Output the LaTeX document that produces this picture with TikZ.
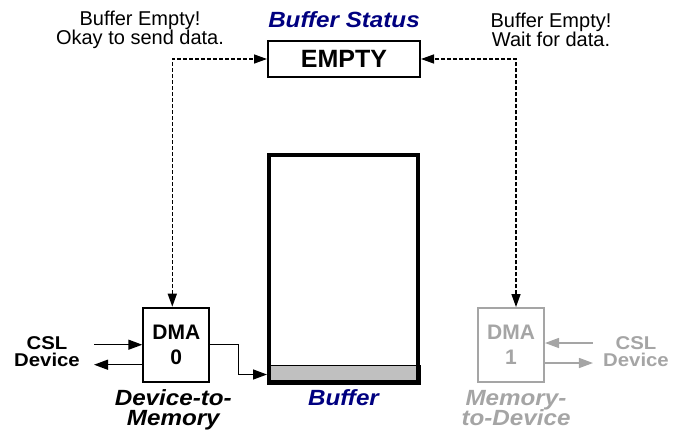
\documentclass[tikz,border=0pt]{standalone}
\usepackage{fontspec}
\setmainfont{Liberation Sans}
\newfontfamily\widesans{Liberation Sans}[FakeStretch=1.1]
\usepackage{tikz}
\usetikzlibrary{positioning, arrows.meta, calc, backgrounds}
\definecolor{navy}{RGB}{0,0,128}
\definecolor{dimgray}{RGB}{165,165,165}
\definecolor{bandgray}{RGB}{192,192,192}
\newcommand{\tightlines}{\lineskiplimit=-\maxdimen}

\begin{document}
\begin{tikzpicture}[x=1pt, y=-1pt, >={Triangle[length=14pt, width=10pt]},
  dmabox/.style={draw, line width=2pt, minimum width=66pt, minimum height=74pt, inner sep=0pt, align=center, font=\fontsize{21}{25}\selectfont\bfseries\tightlines},
  note/.style={align=center, inner sep=0pt, font=\fontsize{20}{19}\selectfont\tightlines},
  lbl/.style={align=center, inner sep=0pt, font=\widesans\fontsize{22}{20}\selectfont\bfseries\itshape\tightlines},
  dev/.style={align=center, inner sep=0pt, font=\widesans\fontsize{18.5}{17}\selectfont\bfseries\tightlines},
  sig/.style={line width=1.4pt, ->},
  link/.style={line width=1.4pt, dash pattern=on 4pt off 2pt, {Triangle[length=13pt, width=9pt]}-{Triangle[length=13pt, width=9pt]}}]
  \useasboundingbox (0,0) rectangle (674,432);
  % status flag
  \node[draw, line width=2pt, minimum width=152pt, minimum height=36pt, inner sep=0pt, font=\fontsize{25}{25}\selectfont\bfseries] (empty) at (344,59) {EMPTY};
  \node[lbl, navy, above=12pt of empty] (status) {Buffer Status};
  \node[note] (note0) at (140,29.7) {Buffer Empty!\\Okay to send data.};
  \node[note] (note1) at (551,29.7) {Buffer Empty!\\Wait for data.};
  % buffer with filled band at the bottom
  \node[draw, line width=4pt, minimum width=149pt, minimum height=227pt] (buffer) at (343.5,268.5) {};
  \begin{scope}[on background layer]
    \draw[line width=1pt, fill=bandgray] (buffer.south west) rectangle ([yshift=19pt]buffer.south east);
  \end{scope}
  \coordinate (bandmid) at ([yshift=9.5pt]buffer.south west);
  \node[lbl, navy, below=5pt of buffer] (buflbl) {Buffer};
  % DMA 0 (active)
  \node[dmabox] (dma0) at (176.3,344.7) {DMA\\0};
  \node[lbl, below=7pt of dma0, xshift=-3pt] (d2m) {Device-to-\\Memory};
  \node[dev] (csl0) at (47,352) {CSL\\Device};
  \coordinate (end0) at ([xshift=14pt]csl0.east);
  \coordinate (out0) at ([yshift=-20pt]dma0.west);
  \draw[sig] (end0 |- dma0.west) -- (dma0.west);
  \draw[sig] (out0) -- (out0 -| end0);
  \draw[sig] (dma0.east) -- ++(28,0) |- (bandmid);
  % DMA 1 (idle, greyed out)
  \node[dmabox, draw=dimgray, text=dimgray] (dma1) at (511,345) {DMA\\1};
  \node[lbl, dimgray, below=7pt of dma1, xshift=5pt] (m2d) {Memory-\\to-Device};
  \node[dev, dimgray] (csl1) at (636,352) {CSL\\Device};
  \coordinate (end1) at ([xshift=-10pt]csl1.west);
  \coordinate (in1) at ([yshift=2pt]dma1.east);
  \coordinate (out1) at ([yshift=-18pt]dma1.east);
  \draw[sig, dimgray] (end1 |- in1) -- (in1);
  \draw[sig, dimgray] (out1) -- (out1 -| end1);
  % status polling
  \coordinate (lturn) at ([xshift=-4pt]dma0.north |- empty.west);
  \coordinate (rturn) at ([xshift=5pt]dma1.north |- empty.east);
  \draw[link] ([xshift=-4pt]dma0.north) -- (lturn) -- (empty.west);
  \draw[link] ([xshift=5pt]dma1.north) -- (rturn) -- (empty.east);
\end{tikzpicture}
\end{document}
